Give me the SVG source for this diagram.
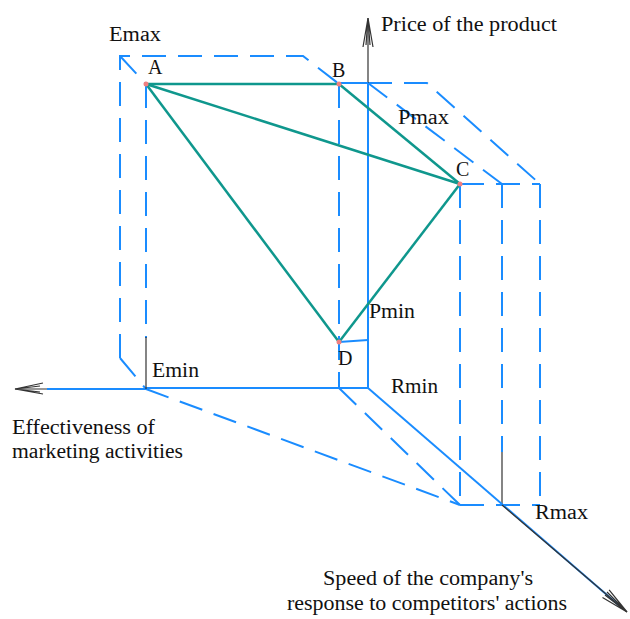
<svg xmlns="http://www.w3.org/2000/svg" width="630" height="619" viewBox="0 0 630 619">
<style>
.dash{fill:none;stroke:#1a8cff;stroke-width:2;stroke-dasharray:24 12}
.solid{fill:none;stroke:#1a8cff;stroke-width:2}
.ax{fill:none;stroke:#333;stroke-width:1.2}
.teal{fill:none;stroke:#0f978d;stroke-width:2.5}
.dot{fill:#f08080}
.t{font-family:'Liberation Serif','DejaVu Serif','Times New Roman',serif;font-size:20px;fill:#111}
</style>
<rect width="630" height="619" fill="#fff"/>
<g id="frame">
<path class="dash" d="M120,358 L120,56 L303,56 L339,84"/>
<path class="dash" d="M120,358 L146,389"/>
<path class="dash" d="M120,56 L146,84"/>
<path class="dash" d="M146,84 L146,338"/>
<path class="dash" d="M339,84 L339,388"/>
<path class="dash" d="M368,83 L427,83 L540,184"/>
<path class="dash" d="M368,83 L502,184"/>
<path class="dash" d="M460,184 L540,184"/>
<path class="dash" d="M460,184 L460,505"/>
<path class="dash" d="M502,184 L502,452"/>
<path class="dash" d="M540,184 L540,505"/>
<path class="dash" d="M460,505 L540,505"/>
<path class="dash" d="M146,389 L460,505"/>
<path class="dash" d="M339,388 L460,505"/>
</g>
<g id="axes">
<path class="ax" d="M368,18 L368,83"/>
<path class="ax" d="M363,47 L368,18 L373,47 M366,45 L368,18 L370,45"/>
<path class="solid" d="M368,83 L368,388"/>
<path class="solid" d="M146,388 L368,388"/>
<path class="ax" d="M15,389 L146,389"/>
<path class="ax" d="M43,383 L15,389 L43,394 M40,386 L15,389 L40,392"/>
<path class="solid" d="M47,389 L146,389"/>
<path class="ax" stroke-width="1.6" d="M146,337 L146,389"/>
<path class="ax" stroke-width="1.6" d="M502,452 L502,505"/>
<path class="solid" stroke-width="1.6" d="M368,388 L622,608"/>
<path class="ax" d="M502,505 L627,612"/>
<path class="ax" d="M602.5,597.5 L627,612 L609.1,589.9 M605,595 L627,612 L607,592"/>
<path class="solid" d="M339,83 L368,83"/>
<path class="solid" d="M339,342 L368,340"/>
</g>
<g id="connectors">
<path class="teal" d="M146,84 L339,84"/>
<path class="teal" d="M146,84 L460,184"/>
<path class="teal" d="M146,84 L339,342"/>
<path class="teal" d="M339,84 L460,184"/>
<path class="teal" d="M460,184 L339,342"/>
</g>
<g id="A"><circle class="dot" cx="146" cy="84" r="2.5"/><text class="t" x="148" y="74">A</text></g>
<g id="B"><circle class="dot" cx="339" cy="84" r="2.5"/><text class="t" x="332" y="77">B</text></g>
<g id="C"><circle class="dot" cx="460" cy="184" r="2.5"/><text class="t" x="456" y="176">C</text></g>
<g id="D"><circle class="dot" cx="339" cy="342" r="2.5"/><text class="t" x="338" y="365">D</text></g>
<g id="labels">
<text class="t" x="109" y="41" textLength="52" lengthAdjust="spacingAndGlyphs">Emax</text>
<text class="t" x="381" y="31" textLength="176" lengthAdjust="spacingAndGlyphs">Price of the product</text>
<text class="t" x="398" y="124" textLength="51" lengthAdjust="spacingAndGlyphs">Pmax</text>
<text class="t" x="369" y="318" textLength="46" lengthAdjust="spacingAndGlyphs">Pmin</text>
<text class="t" x="152" y="377" textLength="47" lengthAdjust="spacingAndGlyphs">Emin</text>
<text class="t" x="391" y="393" textLength="47" lengthAdjust="spacingAndGlyphs">Rmin</text>
<text class="t" x="535" y="519" textLength="53" lengthAdjust="spacingAndGlyphs">Rmax</text>
<text class="t" x="12" y="434" textLength="143" lengthAdjust="spacingAndGlyphs">Effectiveness of</text>
<text class="t" x="12" y="458" textLength="171" lengthAdjust="spacingAndGlyphs">marketing activities</text>
<text class="t" x="323" y="585" textLength="210" lengthAdjust="spacingAndGlyphs">Speed of the company's</text>
<text class="t" x="287" y="610" textLength="280" lengthAdjust="spacingAndGlyphs">response to competitors' actions</text>
</g>
</svg>
